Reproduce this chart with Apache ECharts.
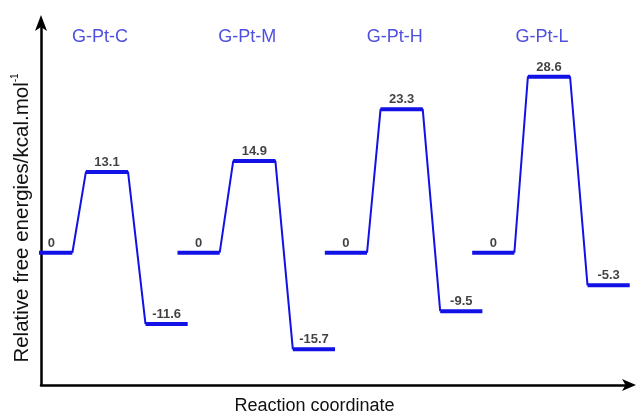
<!DOCTYPE html>
<html>
<head>
<meta charset="utf-8">
<script src="https://cdn.jsdelivr.net/npm/echarts@6/dist/echarts.min.js"></script>
<style>html,body{margin:0;padding:0;background:#fff}#c{width:637px;height:415px}</style>
</head>
<body>
<div id="c"></div>
<script>
// ---- data ----
const groups = ['G-Pt-C', 'G-Pt-M', 'G-Pt-H', 'G-Pt-L'];
const reactant = [0, 0, 0, 0];
const transition = [13.1, 14.9, 23.3, 28.6];
const product = [-11.6, -15.7, -9.5, -5.3];

// ---- layout (reaction-coordinate units) ----
const GROUP_STEP = 2.584;
const STAGE_POS = [0, 0.977, 2.023];
const HALF = 0.37;
const TITLE_Y = 35.1;
const BLUE = '#1212e6';
const FONT = 'Liberation Sans, Arial, sans-serif';

const series = [];
const labelPts = [];
const titlePts = [];
groups.forEach((g, i) => {
  const levels = [reactant[i], transition[i], product[i]];
  const centers = STAGE_POS.map(p => i * GROUP_STEP + p);
  const conn = [];
  for (let s = 0; s < 2; s++) {
    conn.push([centers[s] + HALF, levels[s]]);
    conn.push([centers[s + 1] - HALF, levels[s + 1]]);
  }
  series.push({
    type: 'line', data: conn, symbol: 'none', silent: true, z: 2,
    lineStyle: { color: BLUE, width: 2 }
  });
  levels.forEach((v, s) => {
    series.push({
      type: 'line', data: [[centers[s] - HALF, v], [centers[s] + HALF, v]],
      symbol: 'none', silent: true, z: 3,
      lineStyle: { color: BLUE, width: 4, cap: 'butt' }
    });
    labelPts.push([centers[s], v]);
  });
  titlePts.push({ value: [centers[1], TITLE_Y], name: g });
});

series.push({
  type: 'scatter', data: labelPts, symbolSize: 0, z: 5, silent: true,
  label: {
    show: true, position: 'top', distance: 3,
    formatter: p => String(p.value[1]),
    color: '#111', fontFamily: FONT, fontSize: 13, fontWeight: 'bold'
  }
});
series.push({
  type: 'scatter', data: titlePts, symbolSize: 0, z: 5, silent: true,
  label: {
    show: true, position: 'inside', offset: [-7, 0],
    formatter: p => p.name,
    color: '#2222d8', fontFamily: FONT, fontSize: 18
  }
});

const chart = echarts.init(document.getElementById('c'), null, { renderer: 'canvas' });
chart.setOption({
  animation: false,
  backgroundColor: '#fff',
  grid: { left: 41, right: 7, top: 22, bottom: 30, containLabel: false, outerBoundsMode: 'none' },
  xAxis: {
    type: 'value', min: -0.18, max: 10.15,
    splitLine: { show: false }, axisTick: { show: false }, axisLabel: { show: false },
    axisLine: { onZero: false, lineStyle: { color: '#000', width: 2.5 }, symbol: ['none', 'arrow'], symbolSize: [9, 14], symbolOffset: [0, 6] },
    name: 'Reaction coordinate', nameLocation: 'middle', nameGap: 12,
    nameTextStyle: { color: '#111', fontSize: 18, fontFamily: FONT, padding: [0, 42, 0, 0] }
  },
  yAxis: {
    type: 'value', min: -21.5, max: 37.5,
    splitLine: { show: false }, axisTick: { show: false }, axisLabel: { show: false },
    axisLine: { onZero: false, lineStyle: { color: '#000', width: 2.5 }, symbol: ['none', 'arrow'], symbolSize: [9, 16], symbolOffset: [0, 7] },
    name: '{m|Relative free energies/kcal.mol}{s|-1}', nameLocation: 'middle', nameGap: 7,
    nameTextStyle: {
      color: '#111', fontFamily: FONT, padding: [0, 29, 0, 0],
      rich: {
        m: { fontSize: 20.5, color: '#111', fontFamily: FONT, lineHeight: 24 },
        s: { fontSize: 10, color: '#111', fontFamily: FONT, verticalAlign: 'top', lineHeight: 24 }
      }
    }
  },
  series: series
});
</script>
</body>
</html>
